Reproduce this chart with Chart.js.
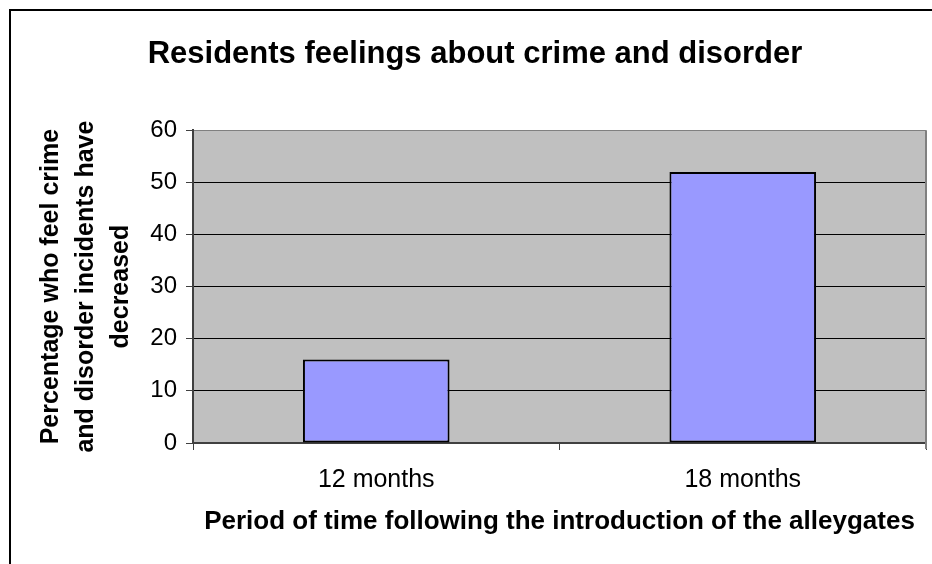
<!DOCTYPE html>
<html>
<head>
<meta charset="utf-8">
<script src="https://cdn.jsdelivr.net/npm/chart.js@4.4.1/dist/chart.umd.min.js"></script>
<style>
html,body{margin:0;padding:0;background:#fff;}
#wrap{width:932px;height:564px;position:relative;}
</style>
</head>
<body>
<div id="wrap"><canvas id="c" width="932" height="564"></canvas></div>
<script>
const categories = ["12 months", "18 months"];
const percentDecreased = [16, 52];
const yTicks = [0, 10, 20, 30, 40, 50, 60];
const chartTitle = "Residents feelings about crime and disorder";
const yTitle = ["Percentage who feel crime", "and disorder incidents have", "decreased"];
const xTitle = "Period of time following the introduction of the alleygates";

const FONT = "'Liberation Sans', Arial, sans-serif";

const decor = {
  id: 'decor',
  beforeDraw(chart) {
    const {ctx, chartArea: a} = chart;
    ctx.save();
    ctx.fillStyle = '#fff';
    ctx.fillRect(0, 0, chart.width, chart.height);
    ctx.fillStyle = '#C0C0C0';
    ctx.fillRect(a.left, a.top, a.right - a.left, a.bottom - a.top);
    ctx.restore();
  },
  afterDraw(chart) {
    const {ctx, chartArea: a} = chart;
    ctx.save();
    ctx.strokeStyle = '#000';
    ctx.lineWidth = 2;
    ctx.beginPath();
    ctx.moveTo(10, 580);
    ctx.lineTo(10, 10);
    ctx.lineTo(950, 10);
    ctx.stroke();
    ctx.strokeStyle = '#808080';
    ctx.lineWidth = 2;
    ctx.beginPath();
    ctx.moveTo(a.right, a.top);
    ctx.lineTo(a.right, a.bottom + 6);
    ctx.stroke();
    ctx.restore();
  }
};

new Chart(document.getElementById('c'), {
  type: 'bar',
  data: {
    labels: categories,
    datasets: [{
      data: percentDecreased,
      backgroundColor: '#9999FF',
      borderColor: '#000',
      borderWidth: 2,
      borderSkipped: false,
      barPercentage: 0.4,
      categoryPercentage: 1.0
    }]
  },
  options: {
    responsive: false,
    animation: false,
    devicePixelRatio: 1,
    layout: { padding: { left: 24, right: 6, top: 0, bottom: 0 } },
    plugins: {
      legend: { display: false },
      tooltip: { enabled: false },
      title: {
        display: true,
        text: chartTitle,
        color: '#000',
        font: { family: FONT, size: 31, weight: 'bold', lineHeight: 1.2 },
        padding: { top: 36, bottom: 57 }
      }
    },
    scales: {
      x: {
        offset: true,
        grid: { display: true, drawOnChartArea: false, offset: true, tickLength: 7, color: '#404040', lineWidth: 1 },
        border: { display: true, color: '#404040', width: 2 },
        ticks: { color: '#000', font: { family: FONT, size: 25 }, padding: 15, maxRotation: 0 },
        title: {
          display: true, text: xTitle, color: '#000',
          font: { family: FONT, size: 26, weight: 'bold', lineHeight: 1.2 },
          padding: { top: 0, bottom: 27 }
        },
        afterFit(s) { s.height = 121; }
      },
      y: {
        min: 0, max: 60,
        afterBuildTicks(s) { s.ticks = yTicks.map(v => ({ value: v })); },
        grid: {
          color: (c) => (c.tick && c.tick.value === 60) ? '#808080' : '#000',
          lineWidth: 1, tickLength: 7, drawTicks: true,
          tickColor: '#404040'
        },
        border: { display: true, color: '#404040', width: 2 },
        ticks: { color: '#000', font: { family: FONT, size: 24 }, padding: 9 },
        title: {
          display: true, text: yTitle, color: '#000',
          font: { family: FONT, size: 25, weight: 'bold', lineHeight: 1.4 },
          padding: { top: 10, bottom: 0 }
        },
        afterFit(s) { s.width = 169; }
      }
    }
  },
  plugins: [decor]
});
</script>
</body>
</html>
